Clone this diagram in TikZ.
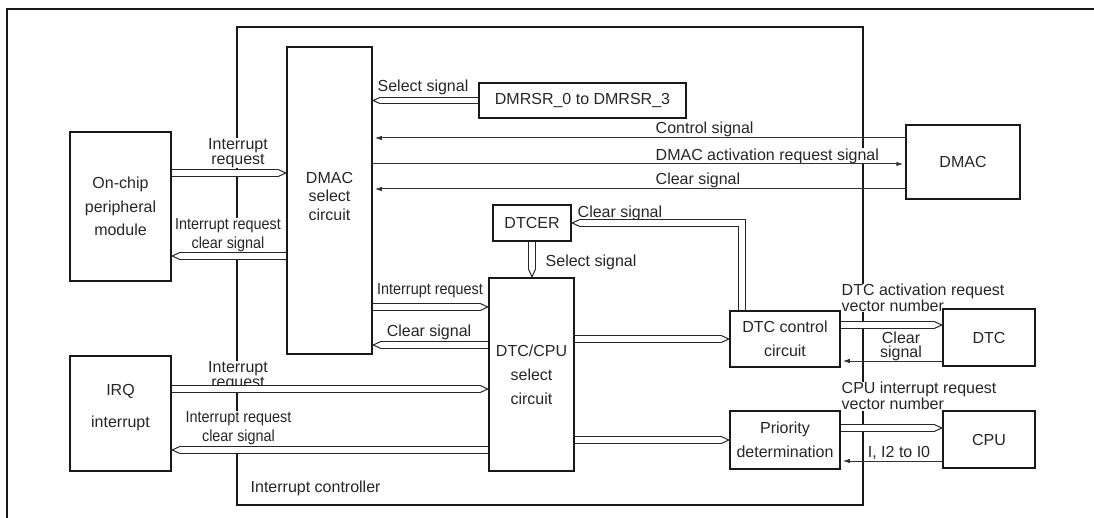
\documentclass[tikz,border=0pt]{standalone}
\usepackage{fontspec}
\setmainfont{Liberation Sans}
\newfontfamily\condfont{Liberation Sans}[FakeStretch=0.9]
\usetikzlibrary{arrows.meta, backgrounds}

% hollow pointed tip for the double-line buses
\pgfdeclarearrow{
  name = BusTip,
  parameters = {\the\pgfarrowlength,\the\pgfarrowwidth},
  setup code = {
    \pgfarrowssettipend{0pt}
    \pgfarrowssetlineend{-\pgfarrowlength+0.4pt}
    \pgfarrowssetbackend{-\pgfarrowlength}
    \pgfarrowssavethe\pgfarrowlength
    \pgfarrowssavethe\pgfarrowwidth
  },
  drawing code = {
    \pgfsetlinewidth{1pt}
    \pgfsetmiterjoin
    \pgfsetfillcolor{white}
    \pgfpathmoveto{\pgfqpoint{-\pgfarrowlength}{.5\pgfarrowwidth}}
    \pgfpathlineto{\pgfqpoint{0pt}{0pt}}
    \pgfpathlineto{\pgfqpoint{-\pgfarrowlength}{-.5\pgfarrowwidth}}
    \pgfusepathqfillstroke
  },
  defaults = {length=7pt, width=6.5pt}
}

\begin{document}
\begin{tikzpicture}[
  x=1pt, y=-1pt,
  every node/.style={text=black!85},
  block/.style ={rectangle, draw=black!90, line width=2.5pt, align=center,
                 inner sep=0pt, font=\fontsize{16}{24}\selectfont},
  frame/.style ={draw=black!90, line width=2.3pt},
  lbl/.style   ={fill=white, inner sep=0.5pt, align=center,
                 font=\fontsize{16}{16}\selectfont},
  lblc/.style  ={lbl, font=\condfont\fontsize{16}{19.5}\selectfont},
  bus/.style   ={draw=black!85, line width=1pt, double=white,
                 double distance=5.5pt, line join=miter, -BusTip},
  sig/.style   ={draw=black!80, line width=1pt, shorten >=1.5pt,
                 -{Latex[length=7pt, width=4.5pt]}}
]
\useasboundingbox (0,0) rectangle (1094,518);

% ---------- Blocks inside the interrupt controller ----------
\node[block, minimum width=85pt, minimum height=307pt,
      font=\fontsize{16}{18.5}\selectfont, text depth=9pt]
      (dmacsel) at (329.5,200.5) {DMAC\\select\\circuit};
\node[block, minimum width=207pt, minimum height=35pt] (dmrsr) at (582.5,100.5) {DMRSR\_0 to DMRSR\_3};
\node[block, minimum width=78pt,  minimum height=36pt] (dtcer) at (532,223) {DTCER};
\node[block, minimum width=85pt,  minimum height=193pt] (dtccpu) at (531.5,374.5) {DTC/CPU\\select\\circuit};
\node[block, minimum width=110pt, minimum height=56pt] (dtcctl) at (785,339) {DTC control\\circuit};
\node[block, minimum width=110pt, minimum height=58pt] (prio)   at (785,440) {Priority\\determination};

% ---------- Blocks outside ----------
\node[block, minimum width=101pt, minimum height=149pt,
      font=\fontsize{16}{23.5}\selectfont]
      (onchip) at (120.5,206.5) {On-chip\\peripheral\\module};
\node[block, minimum width=101pt, minimum height=115pt,
      font=\fontsize{16}{32}\selectfont, text depth=16pt]
      (irq) at (120.5,413.5) {IRQ\\interrupt};
\node[block, minimum width=114pt, minimum height=74pt] (dmac) at (963,162)   {DMAC};
\node[block, minimum width=92pt,  minimum height=57pt] (dtc)  at (989,337.5) {DTC};
\node[block, minimum width=92pt,  minimum height=57pt] (cpu)  at (989,439.5) {CPU};

% ---------- Connectors ----------
\draw[bus] (dmrsr.west) -- (dmacsel.east |- dmrsr.west);
\draw[sig] (dmac.west |- 0,138) -- (dmacsel.east |- 0,138);
\draw[sig] (dmacsel.east |- 0,164) -- (dmac.west |- 0,164);
\draw[sig] (dmac.west |- 0,189) -- (dmacsel.east |- 0,189);

\draw[bus] (onchip.east |- 0,173)  -- (dmacsel.west |- 0,173);
\draw[bus] (dmacsel.west |- 0,256) -- (onchip.east |- 0,256);

\draw[bus] (dtcctl.north -| 742,0) |- (dtcer.east);
\draw[bus] (dtcer.south) -- (dtccpu.north -| dtcer.south);
\draw[bus] (dmacsel.east |- 0,307) -- (dtccpu.west |- 0,307);
\draw[bus] (dtccpu.west |- 0,345)  -- (dmacsel.east |- 0,345);

\draw[bus] (irq.east |- 0,389)    -- (dtccpu.west |- 0,389);
\draw[bus] (dtccpu.west |- 0,450) -- (irq.east |- 0,450);

\draw[bus] (dtccpu.east |- dtcctl.west) -- (dtcctl.west);
\draw[bus] (dtccpu.east |- prio.west)   -- (prio.west);

\draw[bus] (dtcctl.east |- 0,325) -- (dtc.west |- 0,325);
\draw[sig] (dtc.west |- 0,361)    -- (dtcctl.east |- 0,361);
\draw[bus] (prio.east |- 0,428)   -- (cpu.west |- 0,428);
\draw[sig] (cpu.west |- 0,461)    -- (prio.east |- 0,461);

% ---------- Frames and labels ----------
\begin{scope}[on background layer]
  \draw[frame, line width=2.7pt] (7,540) |- (1120,9);
  \draw[frame] (237,27) rectangle (863,505);

  \node[lbl, anchor=base]      (lsela) at (423,91.5)    {Select signal};
  \node[lbl, anchor=base west] (lctl)  at (655,133.5)   {Control signal};
  \node[lbl, anchor=base west] (lact)  at (655,160.5)   {DMAC activation request signal};
  \node[lbl, anchor=base west] (lclra) at (655,184.5)   {Clear signal};
  \node[lbl, font=\fontsize{16}{11}\selectfont]  (lira)  at (238,153.1) {Interrupt\\request};
  \node[lblc]                  (lirca) at (228,235.4)   {Interrupt request\\clear signal};
  \node[lbl, anchor=base west] (lclrb) at (577,217.5)   {Clear signal};
  \node[lbl, anchor=base west] (lselb) at (545,266.5)   {Select signal};
  \node[lblc, anchor=base]     (lirb)  at (430,294.5)   {Interrupt request};
  \node[lbl, anchor=base]      (lclrc) at (429,336.5)   {Clear signal};
  \node[lbl, font=\fontsize{16}{11}\selectfont]  (lirc)  at (238,376.1) {Interrupt\\request};
  \node[lblc]                  (lircb) at (238.5,428.4) {Interrupt request\\clear signal};
  \node[lbl, anchor=west, align=left]  (ldtc) at (841,297.9) {DTC activation request\\vector number};
  \node[lbl, font=\fontsize{16}{13.5}\selectfont] (lclrd) at (901,346.4) {Clear\\signal};
  \node[lbl, anchor=west, align=left]  (lcpu) at (841,396.2) {CPU interrupt request\\vector number};
  \node[lbl, anchor=base]      (lipl)  at (899,457.5)   {I, I2 to I0};
  \node[lbl, anchor=base west] (lic)   at (250,492.5)   {Interrupt controller};
\end{scope}

\end{tikzpicture}
\end{document}
